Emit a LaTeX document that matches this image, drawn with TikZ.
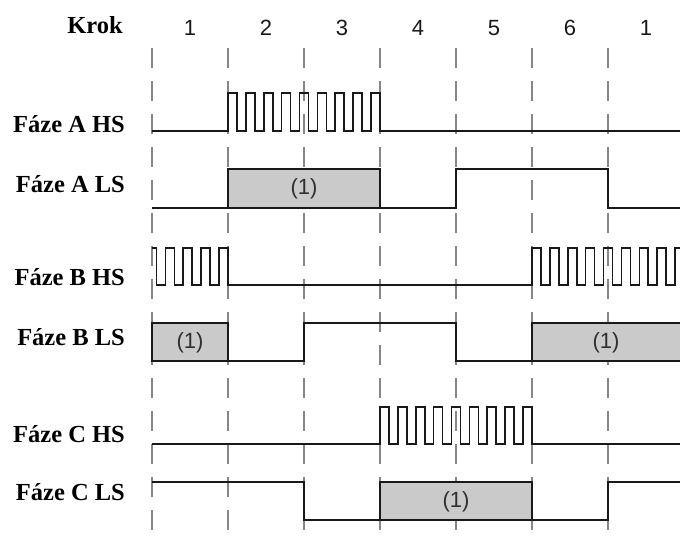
\documentclass[tikz,border=0pt]{standalone}
\usepackage{fontspec}
\setmainfont{Liberation Serif}
\newfontfamily\arialf{Liberation Sans}
\definecolor{boxgray}{RGB}{202,202,202}
\definecolor{dashgray}{RGB}{135,135,135}
\definecolor{ink}{RGB}{25,25,25}
\begin{document}
\begin{tikzpicture}[x=1pt,y=-1pt,
  trace/.style={draw=ink,line width=1.6pt,line join=miter},
  gridline/.style={draw=dashgray,line width=1.4pt,dash pattern=on 20pt off 13pt},
  onebox/.style={fill=boxgray,draw=ink,line width=1.6pt},
  rowlabel/.style={anchor=base east,inner sep=0pt,font=\fontsize{24.5}{26}\selectfont\bfseries},
  stepnum/.style={anchor=base,inner sep=0pt,font=\arialf\fontsize{22}{24}\selectfont,text=ink},
  boxlabel/.style={inner sep=0pt,font=\arialf\fontsize{22}{24}\selectfont,text=ink!90}
]
\useasboundingbox (0,0) rectangle (680,542);
\clip (0,0) rectangle (680,542);
\pgfmathsetmacro{\h}{152/17}

% header
\node[rowlabel] (krok) at (123,33) {Krok};
\foreach \s/\x [count=\i] in {1/190,2/266,3/342,4/418,5/494,6/570,1/646}
  \node[stepnum] (step\i) at (\x,35) {\s};

% dashed step boundaries
\foreach \x in {152,228,304,380,456,532,608}
  \draw[gridline] (\x,48) -- (\x,545);

% row labels
\node[rowlabel] (aHS) at (125,132) {Fáze A HS};
\node[rowlabel] (aLS) at (125,192) {Fáze A LS};
\node[rowlabel] (bHS) at (125,285) {Fáze B HS};
\node[rowlabel] (bLS) at (125,345) {Fáze B LS};
\node[rowlabel] (cHS) at (125,442) {Fáze C HS};
\node[rowlabel] (cLS) at (125,500) {Fáze C LS};

% shaded boxes
\filldraw[onebox] (228,169) rectangle (380,208);
\node[boxlabel] (boxA) at (304,189) {(1)};
\filldraw[onebox] (152,323) rectangle (228,361);
\node[boxlabel] (boxB1) at (190,343) {(1)};
\filldraw[onebox] (532,323) rectangle (684,361);
\node[boxlabel] (boxB2) at (606,343) {(1)};
\filldraw[onebox] (380,482) rectangle (532,520);
\node[boxlabel] (boxC) at (456,502) {(1)};

% Phase A HS
\draw[trace] (152,131) -- (228,131)
  \foreach \k in {1,...,9} { -- ++(0,-38) -- ++(\h,0) -- ++(0,38) -- ++(\h,0) }
  -- (684,131);
% Phase A LS
\draw[trace] (152,208) -- (228,208) -- (228,169) -- (380,169) -- (380,208)
  -- (456,208) -- (456,169) -- (608,169) -- (608,208) -- (684,208);
% Phase B HS
\draw[trace] (152,248) -- ++(\h/2,0) -- ++(0,37)
  \foreach \k in {1,...,4} { -- ++(\h,0) -- ++(0,-37) -- ++(\h,0) -- ++(0,37) }
  -- (532,285)
  \foreach \k in {1,...,9} { -- ++(0,-37) -- ++(\h,0) -- ++(0,37) -- ++(\h,0) };
% Phase B LS
\draw[trace] (152,361) -- (152,323) -- (228,323) -- (228,361) -- (304,361)
  -- (304,323) -- (456,323) -- (456,361) -- (532,361) -- (532,323) -- (684,323);
% Phase C HS
\draw[trace] (152,444) -- (380,444)
  \foreach \k in {1,...,9} { -- ++(0,-37) -- ++(\h,0) -- ++(0,37) -- ++(\h,0) }
  -- (684,444);
% Phase C LS
\draw[trace] (152,482) -- (304,482) -- (304,520) -- (380,520) -- (380,482)
  -- (532,482) -- (532,520) -- (608,520) -- (608,482) -- (684,482);
\end{tikzpicture}
\end{document}
